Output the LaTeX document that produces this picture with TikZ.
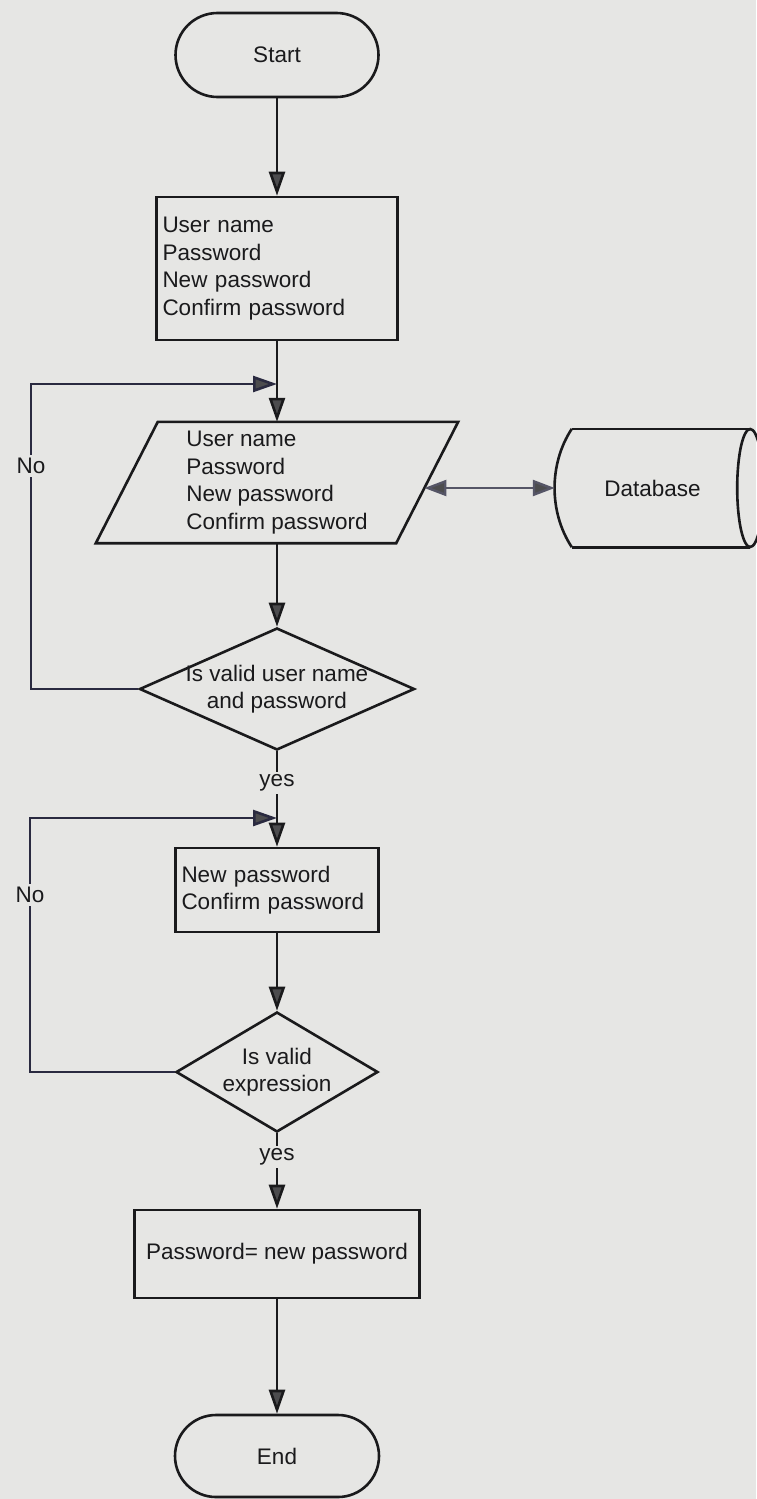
\documentclass[tikz,border=0pt]{standalone}
\usepackage{fontspec}
\setmainfont{Liberation Sans}
\usetikzlibrary{shapes.geometric,shapes.misc,arrows.meta,calc}
\definecolor{paper}{HTML}{E6E6E4}
\definecolor{ink}{HTML}{1A1A1C}
\definecolor{loopink}{HTML}{2A2A40}
\definecolor{tipfill}{HTML}{4C4C4E}

\begin{document}
\begin{tikzpicture}[x=1pt,y=-1pt,
  every node/.style={font=\fontsize{22.5}{27.5}\selectfont, text=ink},
  shapeline/.style={draw=ink, line width=2.6pt},
  terminal/.style={shapeline, rounded rectangle, minimum width=#1, minimum height=84pt, inner sep=0pt},
  procbox/.style={shapeline, rectangle, align=left, inner xsep=6pt, inner ysep=0pt},
  decision/.style={shapeline, diamond, inner sep=0pt},
  flow/.style={draw=ink, line width=2.6pt, -{Triangle[length=24pt,width=16pt,fill=tipfill]}},
  backflow/.style={flow, draw=loopink},
  biflow/.style={draw=loopink!80, line width=2.4pt,
    {Triangle[length=22pt,width=16pt,fill=tipfill]}-{Triangle[length=22pt,width=16pt,fill=tipfill]}},
  tag/.style={fill=paper, inner sep=3pt}
]
% paper
\fill[paper] (0,0) rectangle (756,1499);
\useasboundingbox (0,0) rectangle (756,1499);

% main column
\node[terminal=203pt] (start) at (277,55) {Start};
\node[procbox, minimum width=241pt, minimum height=143pt, text width=229pt] (box1) at (277,268.5)
  {User name\\Password\\New password\\Confirm password};

% input parallelogram
\node[align=left, minimum width=300pt, minimum height=121pt, inner sep=0pt] (para) at (277,482.5)
  {User name\\Password\\New password\\Confirm password};
\draw[shapeline] ($(para.north west)+(31,0)$) -- ($(para.north east)+(31,0)$)
  -- ($(para.south east)+(-31,0)$) -- ($(para.south west)+(-31,0)$) -- cycle;

% database store
\node[minimum width=195pt, minimum height=118pt, inner sep=0pt] (db) at (652.5,488) {Database};
\draw[shapeline] ($(db.north west)+(17,0)$) -- (db.north east);
\draw[shapeline] ($(db.south west)+(17,0)$) -- (db.south east);
\draw[shapeline] ($(db.north west)+(17,0)$) .. controls ($(db.north west)+(-6,35)$) and ($(db.south west)+(-6,-35)$) .. ($(db.south west)+(17,0)$);
\draw[shapeline] (db.east) ellipse [x radius=13, y radius=59];

\node[decision, minimum width=275pt, minimum height=122pt] (d1) at (277,689) {};
\node[align=center] (d1text) at (d1.center) {Is valid user name\\and password};

\node[procbox, minimum height=84pt, text width=191pt] (box2) at (277,890)
  {New password\\Confirm password};

\node[decision, minimum width=202pt, minimum height=120pt] (d2) at (277,1072) {};
\node[align=center] (d2text) at (d2.center) {Is valid\\expression};

\node[shapeline, minimum width=285pt, minimum height=88pt, inner sep=0pt] (box3) at (277,1254)
  {Password= new password};
\node[terminal=204pt, minimum height=82pt] (stop) at (277,1456) {End};

% junction points of the retry loops
\coordinate (c1) at (31,384);
\coordinate (m1) at (277,384);
\coordinate (c2) at (30,818);
\coordinate (m2) at (277,818);

% connectors
\draw[flow] (start.south) -- (box1.north);
\draw[flow] (box1.south) -- (para.north);
\draw[flow] (para.south) -- (d1.north);
\draw[flow] (d1.south) -- (box2.north);
\draw[flow] (box2.south) -- (d2.north);
\draw[flow] (d2.south) -- (box3.north);
\draw[flow] (box3.south) -- (stop.north);
\draw[biflow] (db.west) -- ($(para.east)+(-2.8,5.5)$);

\draw[backflow] (d1.west) -- (d1.west -| c1) -- (c1) -- (m1);
\draw[backflow] (d2.west) -- (d2.west -| c2) -- (c2) -- (m2);

% branch labels
\node[tag] (no1) at (31,466) {No};
\node[tag] (no2) at (30,895) {No};
\node[tag] (yes1) at (277,783) {yes};
\node[tag] (yes2) at (277,1157) {yes};
\end{tikzpicture}
\end{document}
